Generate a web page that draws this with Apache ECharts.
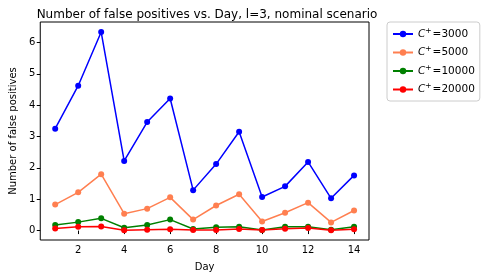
<!DOCTYPE html>
<html><head><meta charset="utf-8">
<script src="https://cdn.jsdelivr.net/npm/echarts@6/dist/echarts.min.js"></script>
<style>html,body{margin:0;padding:0;background:#fff}#c{width:487px;height:278px}</style>
</head><body><div id="c"></div>
<script>
const days = [1,2,3,4,5,6,7,8,9,10,11,12,13,14];
const seriesNames = ['C+=3000','C+=5000','C+=10000','C+=20000'];
const legendValues = ['3000','5000','10000','20000'];
const c3000 = [3.25,4.62,6.33,2.22,3.46,4.21,1.29,2.12,3.15,1.07,1.41,2.19,1.03,1.76];
const c5000 = [0.83,1.22,1.80,0.54,0.70,1.06,0.35,0.80,1.16,0.29,0.57,0.89,0.26,0.64];
const c10000 = [0.18,0.27,0.39,0.09,0.18,0.35,0.05,0.11,0.12,0.02,0.12,0.12,0.03,0.12];
const c20000 = [0.07,0.12,0.13,0.01,0.03,0.04,0.02,0.02,0.05,0.02,0.06,0.08,0.01,0.04];
const colors = ['#0000ff','#ff7f50','#008000','#ff0000'];
const allData = [c3000,c5000,c10000,c20000];
const font = 'DejaVu Sans';

const chart = echarts.init(document.getElementById('c'));
chart.setOption({
  animation:false,
  title:{text:'Number of false positives vs. Day, l=3, nominal scenario',left:202,top:4,textAlign:'center',
    textStyle:{fontFamily:font,fontSize:12,fontWeight:'normal',color:'#000'}},
  grid:{left:35,right:118,top:22,bottom:38,show:true,borderColor:'#000',borderWidth:1,backgroundColor:'transparent'},
  legend:{orient:'vertical',left:387,top:22,padding:[5,5,6,5],itemGap:6,itemWidth:20,itemHeight:8,
    borderColor:'#ccc',borderWidth:1,borderRadius:3,
    data:seriesNames,
    formatter:function(name){const i=seriesNames.indexOf(name);return '{i|C}{s|+}{n|='+legendValues[i]+'}';},
    textStyle:{fontFamily:font,fontSize:10.5,color:'#000',
      rich:{i:{fontFamily:font,fontSize:10.5,fontStyle:'italic'},s:{fontFamily:font,fontSize:7.5,verticalAlign:'bottom',padding:[0,1,6,0]},n:{fontFamily:font,fontSize:10.5}}}},
  xAxis:{type:'value',min:0.35,max:14.65,splitNumber:6,name:'Day',nameLocation:'middle',nameGap:22,
    nameTextStyle:{fontFamily:font,fontSize:10,color:'#000'},
    axisLine:{show:false},axisTick:{show:true,length:3.5,lineStyle:{color:'#000'}},
    splitLine:{show:false},
    axisLabel:{fontFamily:font,fontSize:10,color:'#000',margin:5,showMinLabel:false,showMaxLabel:false}},
  yAxis:{type:'value',min:-0.3,max:6.65,splitNumber:7,name:'Number of false positives',nameLocation:'middle',nameGap:21,
    nameTextStyle:{fontFamily:font,fontSize:10,color:'#000'},
    axisLine:{show:false},axisTick:{show:true,length:3.5,lineStyle:{color:'#000'}},
    splitLine:{show:false},
    axisLabel:{fontFamily:font,fontSize:10,color:'#000',margin:5,showMinLabel:false,showMaxLabel:false}},
  series: allData.map((d,k)=>({
    name:seriesNames[k],type:'line',data:days.map((x,i)=>[x,d[i]]),
    symbol:'circle',symbolSize:6,color:colors[k],
    lineStyle:{width:1.5,color:colors[k]},itemStyle:{color:colors[k]}
  }))
});
</script></body></html>
